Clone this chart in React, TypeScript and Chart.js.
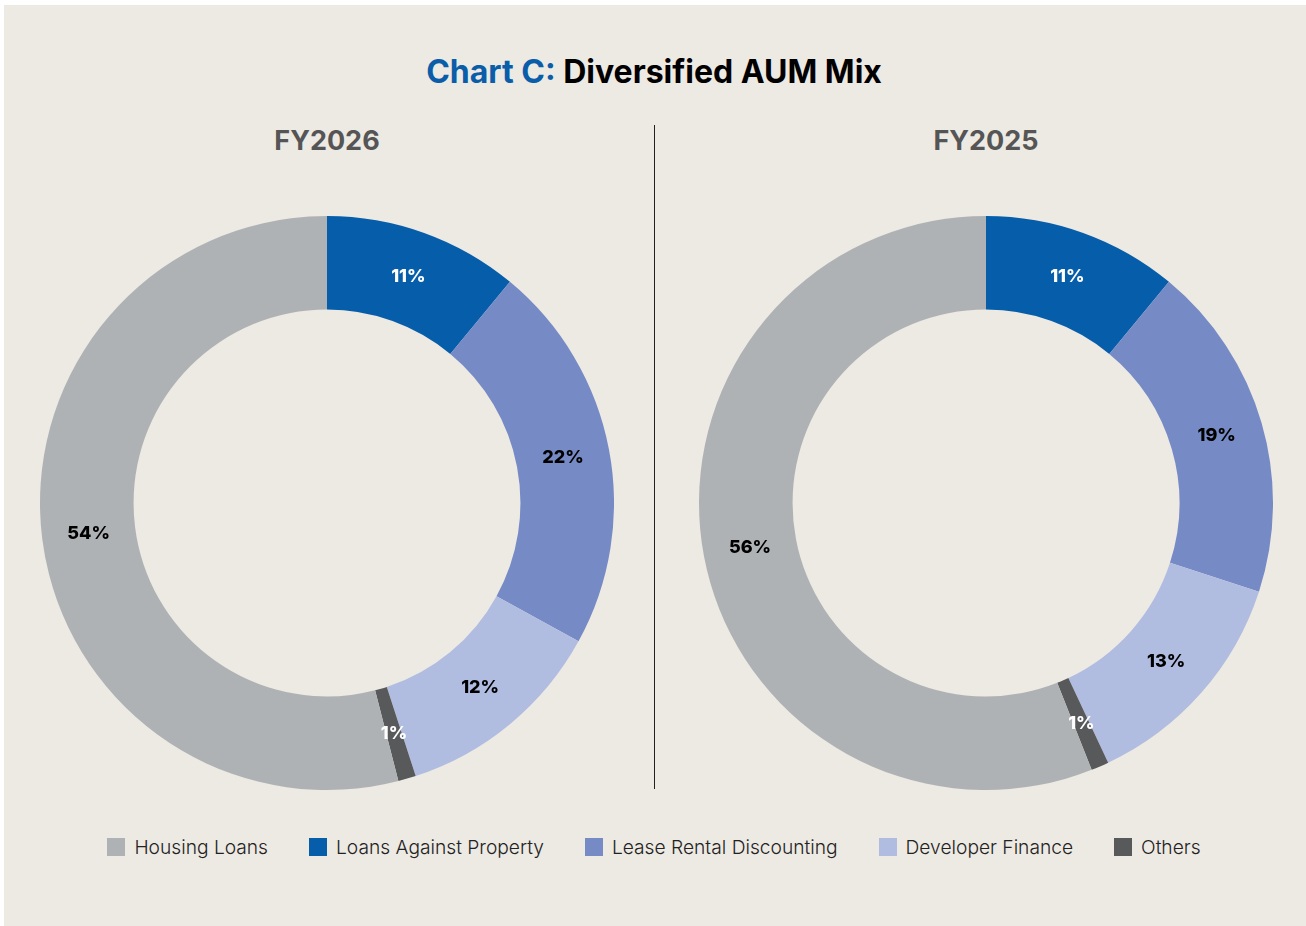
import React, { useEffect, useRef } from "react";
import { Chart, registerables } from "chart.js";

Chart.register(...registerables);

const categories = ["Loans Against Property", "Lease Rental Discounting", "Developer Finance", "Others", "Housing Loans"];
const legendOrder = ["Housing Loans", "Loans Against Property", "Lease Rental Discounting", "Developer Finance", "Others"];
const colors = ["#065DAA", "#768AC6", "#B1BDE0", "#58595B", "#AFB2B4"];
const labelColors = ["#FFFFFF", "#000000", "#000000", "#FFFFFF", "#000000"];
const fy2026 = [11, 22, 12, 1, 54];
const fy2025 = [11, 19, 13, 1, 56];

const FONT = "Inter, 'Noto Sans', sans-serif";

const labelPlugin = {
  id: "sliceLabels",
  afterDatasetsDraw(chart: any) {
    const ctx = chart.ctx;
    const meta = chart.getDatasetMeta(0);
    const data = chart.data.datasets[0].data;
    ctx.save();
    ctx.font = `800 18px ${FONT}`;
    ctx.textAlign = "center";
    ctx.textBaseline = "middle";
    meta.data.forEach((arc: any, i: number) => {
      const p = arc.tooltipPosition();
      ctx.fillStyle = labelColors[i];
      ctx.fillText(`${data[i]}%`, p.x, p.y);
    });
    ctx.restore();
  },
};

function Donut({ values, left, top, size }: { values: number[]; left: number; top: number; size: number }) {
  const ref = useRef<HTMLCanvasElement>(null);
  useEffect(() => {
    const chart = new Chart(ref.current!, {
      type: "doughnut",
      data: {
        labels: categories,
        datasets: [{ data: values, backgroundColor: colors, borderWidth: 0 }],
      },
      options: {
        responsive: false,
        animation: false,
        cutout: "67.4%",
        layout: { padding: 0 },
        plugins: { legend: { display: false }, tooltip: { enabled: false } },
      },
      plugins: [labelPlugin],
    });
    return () => chart.destroy();
  }, []);
  return (
    <canvas
      ref={ref}
      width={size}
      height={size}
      style={{ position: "absolute", left, top, width: size, height: size }}
    />
  );
}

export default function App() {
  useEffect(() => {
    document.body.style.margin = "0";
    document.body.style.background = "#FFFFFF";
  }, []);
  const size = 574;
  return (
    <div style={{ position: "relative", width: 1306, height: 926, fontFamily: FONT }}>
      <div style={{ position: "absolute", left: 4, top: 5, right: 0, bottom: 0, background: "#EDE9E3" }} />
      <div
        style={{
          position: "absolute",
          left: 0,
          width: 1308,
          top: 51,
          textAlign: "center",
          fontSize: 32,
          fontWeight: 700,
          lineHeight: "42px",
          color: "#000",
        }}
      >
        <span style={{ color: "#0A5DA9" }}>Chart C:</span> Diversified AUM Mix
      </div>
      <div style={{ position: "absolute", left: 177, width: 300, top: 123, textAlign: "center", fontSize: 27, fontWeight: 700, color: "#555555", lineHeight: "36px" }}>
        FY2026
      </div>
      <div style={{ position: "absolute", left: 836, width: 300, top: 123, textAlign: "center", fontSize: 27, fontWeight: 700, color: "#555555", lineHeight: "36px" }}>
        FY2025
      </div>
      <div style={{ position: "absolute", left: 654, top: 125, width: 1, height: 664, background: "#222" }} />
      <Donut values={fy2026} left={40} top={216} size={size} />
      <Donut values={fy2025} left={699} top={216} size={size} />
      <div
        style={{
          position: "absolute",
          left: 0,
          width: 1308,
          top: 835,
          display: "flex",
          justifyContent: "center",
          gap: 41,
          fontSize: 19.2,
          fontWeight: 300,
          color: "#222",
        }}
      >
        {legendOrder.map((name) => (
          <div key={name} style={{ display: "flex", alignItems: "center", gap: 9, lineHeight: "24px" }}>
            <span style={{ width: 18, height: 18, background: colors[categories.indexOf(name)], display: "inline-block" }} />
            <span>{name}</span>
          </div>
        ))}
      </div>
    </div>
  );
}
